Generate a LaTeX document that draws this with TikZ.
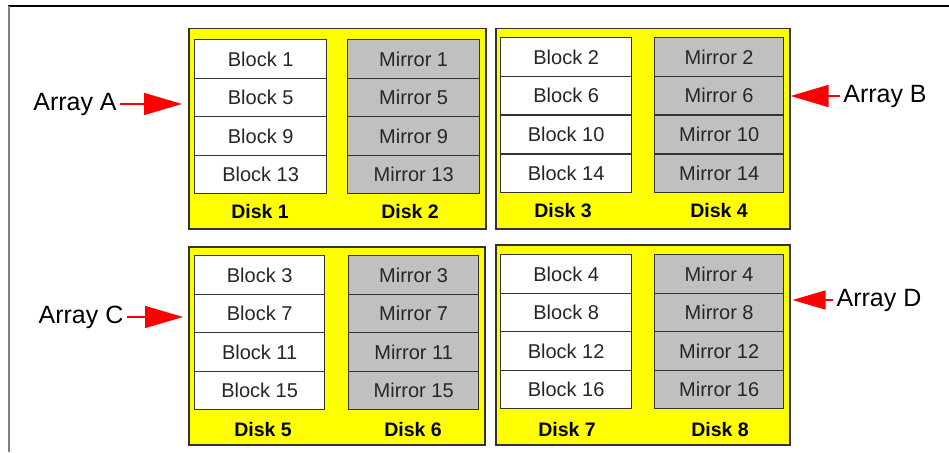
\documentclass[tikz,border=0pt]{standalone}
\usepackage{fontspec}
\setmainfont{Liberation Sans}
\usetikzlibrary{arrows.meta}
\definecolor{diskyellow}{HTML}{FFFF00}
\definecolor{mirrorgray}{HTML}{C0C0C0}
\definecolor{edgegray}{HTML}{333333}
\begin{document}
\begin{tikzpicture}[x=1pt,y=-1pt,
  diskbox/.style={draw=edgegray,line width=1.5pt,fill=diskyellow,inner sep=0pt,anchor=north west},
  blockcell/.style={draw=edgegray,line width=1.3pt,fill=white,inner sep=0pt,anchor=north west,
    minimum width=131pt,minimum height=38.5pt,text=black!85,font=\fontsize{20}{20}\selectfont},
  mirrorcell/.style={blockcell,fill=mirrorgray},
  disklabel/.style={font=\bfseries\fontsize{19.5}{20}\selectfont},
  arraylabel/.style={font=\fontsize{25}{25}\selectfont,inner sep=3pt},
  redarrow/.style={draw=red,line width=1.5pt,-{Triangle[length=38pt,width=22pt]}},
  smallredarrow/.style={draw=red,line width=1.5pt,-{Triangle[length=33pt,width=19pt]}}]
\useasboundingbox (0,0) rectangle (949,452);
% frame
\draw[black,line width=1.5pt] (8,6) -- (949,6);
\draw[gray,line width=1.5pt] (9,6) -- (9,452);
% disk boxes
\node[diskbox,minimum width=297pt,minimum height=200pt] (boxA) at (188,28) {};
\node[diskbox,minimum width=294pt,minimum height=200pt] (boxB) at (495,28) {};
\node[diskbox,minimum width=296pt,minimum height=198pt] (boxC) at (188,246) {};
\node[diskbox,minimum width=294pt,minimum height=200pt] (boxD) at (495,244) {};
% array A
\foreach \n [count=\i from 0] in {1,5,9,13}
  \node[blockcell,minimum width=132pt] (b\n) at (194,{39+\i*38.5}) {Block \n};
\foreach \n [count=\i from 0] in {1,5,9,13}
  \node[mirrorcell,minimum width=132pt] (m\n) at (347,{39+\i*38.5}) {Mirror \n};
% array B
\foreach \n [count=\i from 0] in {2,6,10,14}
  \node[blockcell] (b\n) at (500,{37+\i*38.75}) {Block \n};
\foreach \n [count=\i from 0] in {2,6,10,14}
  \node[mirrorcell,minimum width=129pt] (m\n) at (654,{37+\i*38.75}) {Mirror \n};
% array C
\foreach \n [count=\i from 0] in {3,7,11,15}
  \node[blockcell,minimum width=130pt] (b\n) at (194,{255+\i*38.5}) {Block \n};
\foreach \n [count=\i from 0] in {3,7,11,15}
  \node[mirrorcell,minimum width=130pt] (m\n) at (348,{255+\i*38.5}) {Mirror \n};
% array D
\foreach \n [count=\i from 0] in {4,8,12,16}
  \node[blockcell] (b\n) at (500,{254+\i*38.5}) {Block \n};
\foreach \n [count=\i from 0] in {4,8,12,16}
  \node[mirrorcell,minimum width=129pt] (m\n) at (654,{254+\i*38.5}) {Mirror \n};
% disk labels
\node[disklabel] (d1) at (260,212) {Disk 1};
\node[disklabel] (d2) at (410,212) {Disk 2};
\node[disklabel] (d3) at (563,211) {Disk 3};
\node[disklabel] (d4) at (719,211) {Disk 4};
\node[disklabel] (d5) at (263,430) {Disk 5};
\node[disklabel] (d6) at (413,430) {Disk 6};
\node[disklabel] (d7) at (567,430) {Disk 7};
\node[disklabel] (d8) at (720,430) {Disk 8};
% array labels and arrows
\node[arraylabel] (lA) at (75,104) {Array A};
\node[arraylabel] (lB) at (885,96) {Array B};
\node[arraylabel] (lC) at (81,317) {Array C};
\node[arraylabel] (lD) at (879,300) {Array D};
\draw[redarrow,shorten >=6pt] (lA.east) -- (lA.east -| boxA.west);
\draw[redarrow] (lB.west) -- (lB.west -| boxB.east);
\draw[redarrow,shorten >=5pt] (lC.east) -- (lC.east -| boxC.west);
\draw[smallredarrow,shorten >=2pt] (lD.west) -- (lD.west -| boxD.east);
\end{tikzpicture}
\end{document}
